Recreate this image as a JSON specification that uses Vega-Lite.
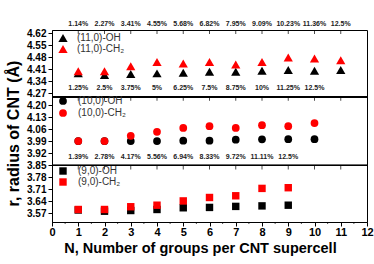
{
  "$schema": "https://vega.github.io/schema/vega-lite/v6.json",
  "width": 315,
  "height": 192,
  "autosize": "none",
  "padding": {"left": 52, "top": 30, "right": 7, "bottom": 42},
  "background": "white",
  "config": {
    "view": {"stroke": "#000", "strokeWidth": 1},
    "font": "Liberation Sans",
    "axis": {"grid": false, "domainColor": "#000", "tickColor": "#000", "labelColor": "#000", "titleColor": "#000", "labelFont": "Liberation Sans", "titleFont": "Liberation Sans", "labelFontWeight": "bold", "titleFontWeight": "bold", "labelOverlap": false},
    "axisX": {"labelFontSize": 11, "tickSize": 4, "labelPadding": 0, "titleFontSize": 14.5, "titleX": 148, "titleY": 30, "titleBaseline": "alphabetic", "titleAnchor": null, "titleAlign": "center", "labelOverlap": false, "labelFlush": false},
    "axisY": {"labelFontSize": 10, "tickSize": 4, "labelPadding": 2, "titleFontSize": 16, "titleX": -39, "titleY": 103, "titleAngle": -90, "titleAlign": "center", "titleBaseline": "middle", "titleAnchor": null},
    "legend": {"labelFont": "Liberation Sans", "labelFontSize": 10, "labelColor": "#333", "titleFontSize": 0}
  },
  "datasets": {
    "tri": [
      {"x": 1, "r": 4.387, "series": "(11,0)-OH"},
      {"x": 2, "r": 4.377, "series": "(11,0)-OH"},
      {"x": 3, "r": 4.383, "series": "(11,0)-OH"},
      {"x": 4, "r": 4.387, "series": "(11,0)-OH"},
      {"x": 5, "r": 4.390, "series": "(11,0)-OH"},
      {"x": 6, "r": 4.396, "series": "(11,0)-OH"},
      {"x": 7, "r": 4.396, "series": "(11,0)-OH"},
      {"x": 8, "r": 4.402, "series": "(11,0)-OH"},
      {"x": 9, "r": 4.406, "series": "(11,0)-OH"},
      {"x": 10, "r": 4.402, "series": "(11,0)-OH"},
      {"x": 11, "r": 4.406, "series": "(11,0)-OH"},
      {"x": 1, "r": 4.400, "series": "(11,0)-CH₂"},
      {"x": 2, "r": 4.400, "series": "(11,0)-CH₂"},
      {"x": 3, "r": 4.429, "series": "(11,0)-CH₂"},
      {"x": 4, "r": 4.454, "series": "(11,0)-CH₂"},
      {"x": 5, "r": 4.445, "series": "(11,0)-CH₂"},
      {"x": 6, "r": 4.454, "series": "(11,0)-CH₂"},
      {"x": 7, "r": 4.439, "series": "(11,0)-CH₂"},
      {"x": 8, "r": 4.453, "series": "(11,0)-CH₂"},
      {"x": 9, "r": 4.480, "series": "(11,0)-CH₂"},
      {"x": 10, "r": 4.474, "series": "(11,0)-CH₂"},
      {"x": 11, "r": 4.464, "series": "(11,0)-CH₂"}
    ],
    "cir": [
      {"x": 1, "r": 3.992, "series": "(10,0)-OH"},
      {"x": 2, "r": 3.992, "series": "(10,0)-OH"},
      {"x": 3, "r": 3.992, "series": "(10,0)-OH"},
      {"x": 4, "r": 3.992, "series": "(10,0)-OH"},
      {"x": 5, "r": 3.994, "series": "(10,0)-OH"},
      {"x": 6, "r": 3.994, "series": "(10,0)-OH"},
      {"x": 7, "r": 4.000, "series": "(10,0)-OH"},
      {"x": 8, "r": 4.002, "series": "(10,0)-OH"},
      {"x": 9, "r": 4.003, "series": "(10,0)-OH"},
      {"x": 10, "r": 4.003, "series": "(10,0)-OH"},
      {"x": 1, "r": 3.992, "series": "(10,0)-CH₂"},
      {"x": 2, "r": 3.992, "series": "(10,0)-CH₂"},
      {"x": 3, "r": 4.023, "series": "(10,0)-CH₂"},
      {"x": 4, "r": 4.046, "series": "(10,0)-CH₂"},
      {"x": 5, "r": 4.069, "series": "(10,0)-CH₂"},
      {"x": 6, "r": 4.079, "series": "(10,0)-CH₂"},
      {"x": 7, "r": 4.069, "series": "(10,0)-CH₂"},
      {"x": 8, "r": 4.085, "series": "(10,0)-CH₂"},
      {"x": 9, "r": 4.079, "series": "(10,0)-CH₂"},
      {"x": 10, "r": 4.097, "series": "(10,0)-CH₂"}
    ],
    "sq": [
      {"x": 1, "r": 3.590, "series": "(9,0)-OH"},
      {"x": 2, "r": 3.583, "series": "(9,0)-OH"},
      {"x": 3, "r": 3.587, "series": "(9,0)-OH"},
      {"x": 4, "r": 3.593, "series": "(9,0)-OH"},
      {"x": 5, "r": 3.603, "series": "(9,0)-OH"},
      {"x": 6, "r": 3.605, "series": "(9,0)-OH"},
      {"x": 7, "r": 3.611, "series": "(9,0)-OH"},
      {"x": 8, "r": 3.614, "series": "(9,0)-OH"},
      {"x": 9, "r": 3.618, "series": "(9,0)-OH"},
      {"x": 1, "r": 3.593, "series": "(9,0)-CH₂"},
      {"x": 2, "r": 3.593, "series": "(9,0)-CH₂"},
      {"x": 3, "r": 3.609, "series": "(9,0)-CH₂"},
      {"x": 4, "r": 3.618, "series": "(9,0)-CH₂"},
      {"x": 5, "r": 3.643, "series": "(9,0)-CH₂"},
      {"x": 6, "r": 3.663, "series": "(9,0)-CH₂"},
      {"x": 7, "r": 3.673, "series": "(9,0)-CH₂"},
      {"x": 8, "r": 3.716, "series": "(9,0)-CH₂"},
      {"x": 9, "r": 3.720, "series": "(9,0)-CH₂"}
    ],
    "pct1": [
      {"x": 1, "label": "1.14%"}, {"x": 2, "label": "2.27%"}, {"x": 3, "label": "3.41%"},
      {"x": 4, "label": "4.55%"}, {"x": 5, "label": "5.68%"}, {"x": 6, "label": "6.82%"},
      {"x": 7, "label": "7.95%"}, {"x": 8, "label": "9.09%"}, {"x": 9, "label": "10.23%"},
      {"x": 10, "label": "11.36%"}, {"x": 11, "label": "12.5%"}
    ],
    "pct2": [
      {"x": 1, "label": "1.25%"}, {"x": 2, "label": "2.5%"}, {"x": 3, "label": "3.75%"},
      {"x": 4, "label": "5%"}, {"x": 5, "label": "6.25%"}, {"x": 6, "label": "7.5%"},
      {"x": 7, "label": "8.75%"}, {"x": 8, "label": "10%"}, {"x": 9, "label": "11.25%"},
      {"x": 10, "label": "12.5%"}
    ],
    "pct3": [
      {"x": 1, "label": "1.39%"}, {"x": 2, "label": "2.78%"}, {"x": 3, "label": "4.17%"},
      {"x": 4, "label": "5.56%"}, {"x": 5, "label": "6.94%"}, {"x": 6, "label": "8.33%"},
      {"x": 7, "label": "9.72%"}, {"x": 8, "label": "11.11%"}, {"x": 9, "label": "12.5%"}
    ],
    "xt": [
      {"x": 1}, {"x": 2}, {"x": 3}, {"x": 4}, {"x": 5}, {"x": 6},
      {"x": 7}, {"x": 8}, {"x": 9}, {"x": 10}, {"x": 11}
    ],
    "minor": [
      {"x": 0.5}, {"x": 1.5}, {"x": 2.5}, {"x": 3.5}, {"x": 4.5}, {"x": 5.5},
      {"x": 6.5}, {"x": 7.5}, {"x": 8.5}, {"x": 9.5}, {"x": 10.5}, {"x": 11.5}
    ]
  },
  "layer": [
    {
      "data": {"name": "tri"},
      "mark": {"type": "point", "shape": "triangle-up", "filled": true, "size": 85, "opacity": 1},
      "encoding": {
        "x": {"field": "x", "type": "quantitative", "scale": {"domain": [0, 12], "nice": false},
          "axis": {"values": [0,1,2,3,4,5,6,7,8,9,10,11,12], "tickCount": 13, "labelOverlap": false, "title": "N, Number of groups per CNT supercell"}},
        "y": {"field": "r", "type": "quantitative", "scale": {"domain": [3.52, 4.64], "nice": false, "zero": false},
          "axis": {"values": [3.57, 3.64, 3.71, 3.78, 3.85, 3.92, 3.99, 4.06, 4.13, 4.2, 4.27, 4.34, 4.41, 4.48, 4.55, 4.62], "tickCount": 16, "format": ".2f", "title": "r, radius of CNT (Å)"}},
        "color": {"field": "series", "type": "nominal", "scale": {"domain": ["(11,0)-OH", "(11,0)-CH₂"], "range": ["#000000", "#ff0000"]},
          "legend": {"title": null, "orient": "none", "legendX": 6, "legendY": 3, "symbolType": "triangle-up", "symbolSize": 85, "symbolStrokeWidth": 0, "labelOffset": 9, "rowPadding": 1, "labelFontSize": 10}}
      }
    },
    {
      "data": {"name": "xt"},
      "mark": {"type": "tick", "orient": "vertical", "size": 4, "thickness": 1, "color": "#000", "yOffset": 2},
      "encoding": {
        "x": {"field": "x", "type": "quantitative", "axis": {"values": [0,1,2,3,4,5,6,7,8,9,10,11,12], "tickCount": 13, "labelOverlap": false, "title": "N, Number of groups per CNT supercell"}},
        "y": {"datum": 4.64, "type": "quantitative"}
      }
    },
    {
      "data": {"name": "xt"},
      "mark": {"type": "tick", "orient": "vertical", "size": 4, "thickness": 1, "color": "#000", "yOffset": 2},
      "encoding": {
        "x": {"field": "x", "type": "quantitative", "axis": {"values": [0,1,2,3,4,5,6,7,8,9,10,11,12], "tickCount": 13, "labelOverlap": false, "title": "N, Number of groups per CNT supercell"}},
        "y": {"datum": 4.25, "type": "quantitative"}
      }
    },
    {
      "data": {"name": "xt"},
      "mark": {"type": "tick", "orient": "vertical", "size": 4, "thickness": 1, "color": "#000", "yOffset": 2},
      "encoding": {
        "x": {"field": "x", "type": "quantitative", "axis": {"values": [0,1,2,3,4,5,6,7,8,9,10,11,12], "tickCount": 13, "labelOverlap": false, "title": "N, Number of groups per CNT supercell"}},
        "y": {"datum": 3.85, "type": "quantitative"}
      }
    },
    {
      "data": {"name": "minor"},
      "mark": {"type": "tick", "orient": "vertical", "size": 2, "thickness": 1, "color": "#000", "yOffset": 1, "clip": false},
      "encoding": {
        "x": {"field": "x", "type": "quantitative", "axis": {"values": [0,1,2,3,4,5,6,7,8,9,10,11,12], "tickCount": 13, "labelOverlap": false, "title": "N, Number of groups per CNT supercell"}},
        "y": {"datum": 3.52, "type": "quantitative"}
      }
    },
    {
      "data": {"name": "xt"},
      "mark": {"type": "rule", "color": "#000", "strokeWidth": 1},
      "encoding": {"y": {"datum": 4.25, "type": "quantitative"}}
    },
    {
      "data": {"name": "xt"},
      "mark": {"type": "rule", "color": "#000", "strokeWidth": 1},
      "encoding": {"y": {"datum": 3.85, "type": "quantitative"}}
    },
    {
      "data": {"name": "pct1"},
      "mark": {"type": "text", "fontSize": 7, "fontWeight": "bold", "color": "#222", "baseline": "middle", "clip": false},
      "encoding": {
        "x": {"field": "x", "type": "quantitative", "axis": {"values": [0,1,2,3,4,5,6,7,8,9,10,11,12], "tickCount": 13, "labelOverlap": false, "title": "N, Number of groups per CNT supercell"}},
        "y": {"datum": 4.675, "type": "quantitative"},
        "text": {"field": "label"}
      }
    },
    {
      "data": {"name": "pct2"},
      "mark": {"type": "text", "fontSize": 7, "fontWeight": "bold", "color": "#222", "baseline": "middle"},
      "encoding": {
        "x": {"field": "x", "type": "quantitative", "axis": {"values": [0,1,2,3,4,5,6,7,8,9,10,11,12], "tickCount": 13, "labelOverlap": false, "title": "N, Number of groups per CNT supercell"}},
        "y": {"datum": 4.302, "type": "quantitative"},
        "text": {"field": "label"}
      }
    },
    {
      "data": {"name": "pct3"},
      "mark": {"type": "text", "fontSize": 7, "fontWeight": "bold", "color": "#222", "baseline": "middle"},
      "encoding": {
        "x": {"field": "x", "type": "quantitative", "axis": {"values": [0,1,2,3,4,5,6,7,8,9,10,11,12], "tickCount": 13, "labelOverlap": false, "title": "N, Number of groups per CNT supercell"}},
        "y": {"datum": 3.898, "type": "quantitative"},
        "text": {"field": "label"}
      }
    },
    {
      "data": {"name": "cir"},
      "mark": {"type": "point", "shape": "circle", "filled": true, "size": 60, "opacity": 1},
      "encoding": {
        "x": {"field": "x", "type": "quantitative", "axis": {"values": [0,1,2,3,4,5,6,7,8,9,10,11,12], "tickCount": 13, "labelOverlap": false, "title": "N, Number of groups per CNT supercell"}},
        "y": {"field": "r", "type": "quantitative"},
        "color": {"field": "series", "type": "nominal", "scale": {"domain": ["(10,0)-OH", "(10,0)-CH₂"], "range": ["#000000", "#ff0000"]},
          "legend": {"title": null, "orient": "none", "legendX": 6, "legendY": 66, "symbolType": "circle", "symbolSize": 60, "symbolStrokeWidth": 0, "labelOffset": 10, "rowPadding": 2, "labelFontSize": 10}}
      }
    },
    {
      "data": {"name": "sq"},
      "mark": {"type": "point", "shape": "square", "filled": true, "size": 55, "opacity": 1},
      "encoding": {
        "x": {"field": "x", "type": "quantitative", "axis": {"values": [0,1,2,3,4,5,6,7,8,9,10,11,12], "tickCount": 13, "labelOverlap": false, "title": "N, Number of groups per CNT supercell"}},
        "y": {"field": "r", "type": "quantitative"},
        "color": {"field": "series", "type": "nominal", "scale": {"domain": ["(9,0)-OH", "(9,0)-CH₂"], "range": ["#000000", "#ff0000"]},
          "legend": {"title": null, "orient": "none", "legendX": 6, "legendY": 136, "symbolType": "square", "symbolSize": 55, "symbolStrokeWidth": 0, "labelOffset": 10, "rowPadding": 1, "labelFontSize": 10}}
      }
    }
  ],
  "resolve": {"scale": {"color": "independent"}, "legend": {"color": "independent"}}
}
